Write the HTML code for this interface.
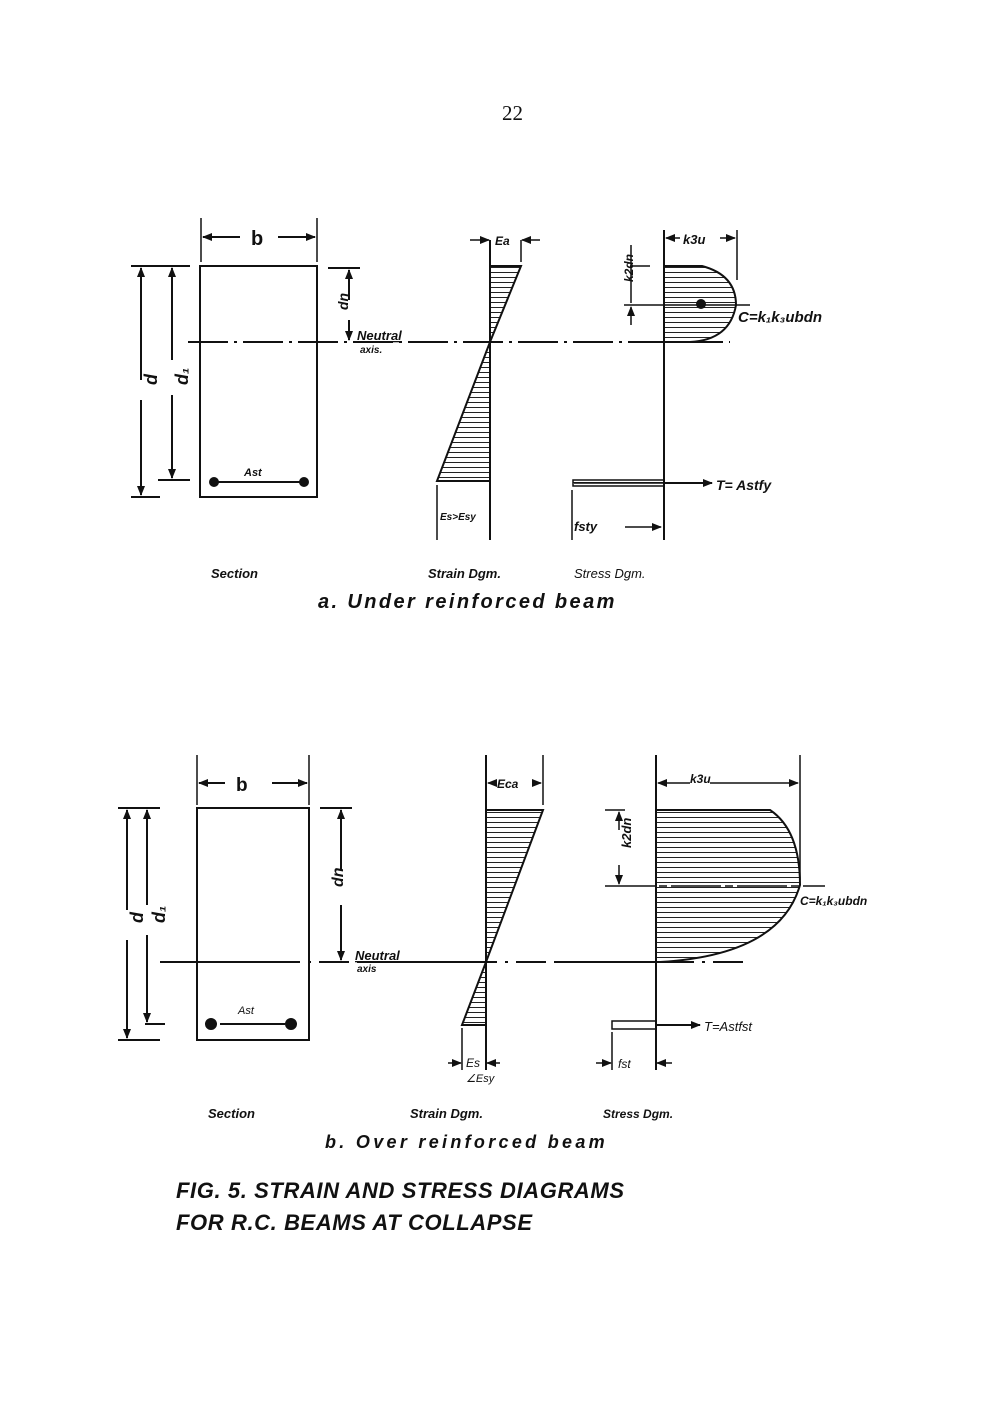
<!DOCTYPE html>
<html><head><meta charset="utf-8"><style>
html,body{margin:0;padding:0;background:#fff;}
svg{display:block}
text{font-family:"Liberation Sans",sans-serif;font-style:italic;font-weight:bold;fill:#111}
</style></head><body>
<svg width="1000" height="1420" viewBox="0 0 1000 1420" xmlns="http://www.w3.org/2000/svg">
<defs>
<pattern id="h" width="10" height="5" patternUnits="userSpaceOnUse"><line x1="0" y1="2.5" x2="10" y2="2.5" stroke="#222" stroke-width="1"/></pattern>
<marker id="a" markerWidth="10" markerHeight="8" refX="9" refY="4" orient="auto" markerUnits="userSpaceOnUse"><path d="M0,0 L10,4 L0,8 z" fill="#111"/></marker>
</defs>
<g stroke="#111" stroke-width="2" fill="none">
<text x="502" y="120" style="font-family:'Liberation Serif',serif;font-style:normal;font-weight:normal;font-size:21px" stroke="none">22</text>

<!-- ===== a ===== -->
<rect x="200" y="266" width="117" height="231"/>
<line x1="201" y1="218" x2="201" y2="262" stroke-width="1.5"/><line x1="317" y1="218" x2="317" y2="262" stroke-width="1.5"/>
<line x1="240" y1="237" x2="203" y2="237" marker-end="url(#a)"/><line x1="278" y1="237" x2="315" y2="237" marker-end="url(#a)"/>
<text x="251" y="245" font-size="20" stroke="none" style="font-style:normal">b</text>
<line x1="131" y1="266" x2="190" y2="266"/><line x1="131" y1="497" x2="160" y2="497"/><line x1="158" y1="480" x2="190" y2="480"/>
<line x1="141" y1="380" x2="141" y2="268" marker-end="url(#a)"/><line x1="141" y1="400" x2="141" y2="495" marker-end="url(#a)"/>
<line x1="172" y1="360" x2="172" y2="268" marker-end="url(#a)"/><line x1="172" y1="395" x2="172" y2="478" marker-end="url(#a)"/>
<text x="150" y="392" font-size="18" stroke="none" transform="rotate(-90 150 385)">d</text>
<text x="181" y="392" font-size="18" stroke="none" transform="rotate(-90 181 385)">d₁</text>
<line x1="328" y1="268" x2="360" y2="268"/>
<line x1="349" y1="300" x2="349" y2="270" marker-end="url(#a)"/><line x1="349" y1="320" x2="349" y2="340" marker-end="url(#a)"/>
<text x="340" y="318" font-size="14" stroke="none" transform="rotate(-90 340 310)">dn</text>
<line x1="188" y1="342" x2="730" y2="342" stroke-dasharray="40,6,3,6"/>
<text x="357" y="340" font-size="13" stroke="none" text-decoration="underline">Neutral</text>
<text x="360" y="353" font-size="10" stroke="none">axis.</text>
<circle cx="214" cy="482" r="4" fill="#111"/><circle cx="304" cy="482" r="4" fill="#111"/>
<line x1="218" y1="482" x2="300" y2="482"/>
<text x="244" y="476" font-size="11" stroke="none">Ast</text>
<!-- strain a -->
<polygon points="490,266 521,266 490,342" fill="url(#h)"/>
<polygon points="490,342 490,481 437,481" fill="url(#h)"/>
<line x1="490" y1="240" x2="490" y2="540"/>
<line x1="521" y1="240" x2="521" y2="262" stroke-width="1.5"/>
<line x1="470" y1="240" x2="489" y2="240" marker-end="url(#a)" stroke-width="1.5"/><line x1="540" y1="240" x2="522" y2="240" marker-end="url(#a)" stroke-width="1.5"/>
<text x="495" y="245" font-size="12" stroke="none">Ea</text>
<line x1="437" y1="485" x2="437" y2="540" stroke-width="1.5"/>
<text x="440" y="520" font-size="10" stroke="none">Es&gt;Esy</text>
<!-- stress a -->
<path d="M664,266 L702,266 Q736,275 736,305 Q730,340 690,342 L664,342 z" fill="url(#h)"/>
<line x1="664" y1="230" x2="664" y2="540"/>
<line x1="737" y1="230" x2="737" y2="280" stroke-width="1.5"/>
<line x1="680" y1="238" x2="666" y2="238" marker-end="url(#a)" stroke-width="1.5"/><line x1="720" y1="238" x2="735" y2="238" marker-end="url(#a)" stroke-width="1.5"/>
<text x="683" y="244" font-size="13" stroke="none">k3u</text>
<line x1="630" y1="266" x2="650" y2="266" stroke-width="1.5"/><line x1="624" y1="305" x2="750" y2="305" stroke-width="1.5"/>
<line x1="631" y1="245" x2="631" y2="303" stroke-width="1.5"/>
<line x1="631" y1="325" x2="631" y2="307" marker-end="url(#a)" stroke-width="1.5"/>
<text x="625" y="290" font-size="12" stroke="none" transform="rotate(-90 625 282)">k2dn</text>
<circle cx="701" cy="304" r="4" fill="#111"/>
<text x="738" y="322" font-size="15" stroke="none">C=k₁k₃ubdn</text>
<rect x="573" y="480" width="91" height="6" stroke-width="1.5" fill="url(#h)"/>
<line x1="574" y1="483" x2="664" y2="483" stroke-width="1.5"/>
<line x1="664" y1="483" x2="712" y2="483" marker-end="url(#a)"/>
<text x="716" y="490" font-size="14" stroke="none">T= Astfy</text>
<line x1="572" y1="490" x2="572" y2="540" stroke-width="1.5"/>
<text x="574" y="531" font-size="13" stroke="none">fsty</text>
<line x1="625" y1="527" x2="661" y2="527" marker-end="url(#a)" stroke-width="1.5"/>
<text x="211" y="578" font-size="13" stroke="none">Section</text>
<text x="428" y="578" font-size="13" stroke="none">Strain Dgm.</text>
<text x="574" y="578" font-size="13" stroke="none" style="font-weight:normal">Stress Dgm.</text>
<text x="318" y="608" font-size="20" stroke="none" letter-spacing="2.4">a. Under reinforced beam</text>

<!-- ===== b ===== -->
<rect x="197" y="808" width="112" height="232"/>
<line x1="197" y1="755" x2="197" y2="805" stroke-width="1.5"/><line x1="309" y1="755" x2="309" y2="805" stroke-width="1.5"/>
<line x1="225" y1="783" x2="199" y2="783" marker-end="url(#a)"/><line x1="272" y1="783" x2="307" y2="783" marker-end="url(#a)"/>
<text x="236" y="791" font-size="19" stroke="none" style="font-style:normal">b</text>
<line x1="118" y1="808" x2="160" y2="808"/><line x1="118" y1="1040" x2="160" y2="1040"/><line x1="145" y1="1024" x2="165" y2="1024"/>
<line x1="127" y1="910" x2="127" y2="810" marker-end="url(#a)"/><line x1="127" y1="940" x2="127" y2="1038" marker-end="url(#a)"/>
<line x1="147" y1="905" x2="147" y2="810" marker-end="url(#a)"/><line x1="147" y1="935" x2="147" y2="1022" marker-end="url(#a)"/>
<text x="136" y="930" font-size="18" stroke="none" transform="rotate(-90 136 923)">d</text>
<text x="158" y="930" font-size="18" stroke="none" transform="rotate(-90 158 923)">d₁</text>
<line x1="320" y1="808" x2="352" y2="808"/>
<line x1="341" y1="870" x2="341" y2="810" marker-end="url(#a)"/><line x1="341" y1="905" x2="341" y2="960" marker-end="url(#a)"/>
<text x="335" y="895" font-size="16" stroke="none" transform="rotate(-90 335 887)">dn</text>
<line x1="160" y1="962" x2="750" y2="962" stroke-dasharray="140,8,3,8,30,8"/>
<text x="355" y="960" font-size="13" stroke="none" text-decoration="underline">Neutral</text>
<text x="357" y="972" font-size="10" stroke="none">axis</text>
<circle cx="211" cy="1024" r="5" fill="#111"/><circle cx="291" cy="1024" r="5" fill="#111"/>
<line x1="220" y1="1024" x2="285" y2="1024"/>
<text x="238" y="1014" font-size="11" stroke="none" style="font-weight:normal">Ast</text>
<!-- strain b -->
<polygon points="486,810 543,810 486,962" fill="url(#h)"/>
<polygon points="486,962 486,1025 462,1025" fill="url(#h)"/>
<line x1="486" y1="755" x2="486" y2="1070"/>
<line x1="543" y1="755" x2="543" y2="805" stroke-width="1.5"/>
<line x1="495" y1="783" x2="488" y2="783" marker-end="url(#a)" stroke-width="1.5"/><line x1="535" y1="783" x2="541" y2="783" marker-end="url(#a)" stroke-width="1.5"/>
<text x="497" y="788" font-size="12" stroke="none">Eca</text>
<line x1="462" y1="1028" x2="462" y2="1070" stroke-width="1.5"/>
<line x1="448" y1="1063" x2="461" y2="1063" marker-end="url(#a)" stroke-width="1.5"/><line x1="500" y1="1063" x2="487" y2="1063" marker-end="url(#a)" stroke-width="1.5"/>
<text x="466" y="1067" font-size="12" stroke="none" style="font-weight:normal">Es</text>
<text x="466" y="1082" font-size="11" stroke="none" style="font-weight:normal">∠Esy</text>
<!-- stress b -->
<path d="M656,810 L770,810 Q800,830 800,885 Q780,955 660,962 L656,962 z" fill="url(#h)"/>
<line x1="656" y1="755" x2="656" y2="1070"/>
<line x1="800" y1="755" x2="800" y2="880" stroke-width="1.5"/>
<line x1="690" y1="783" x2="658" y2="783" marker-end="url(#a)" stroke-width="1.5"/><line x1="710" y1="783" x2="798" y2="783" marker-end="url(#a)" stroke-width="1.5"/>
<text x="690" y="783" font-size="12" stroke="none">k3u</text>
<line x1="605" y1="810" x2="625" y2="810" stroke-width="1.5"/><line x1="605" y1="886" x2="825" y2="886" stroke-width="1.5" stroke-dasharray="50,4,8,4"/>
<line x1="619" y1="830" x2="619" y2="812" marker-end="url(#a)" stroke-width="1.5"/><line x1="619" y1="865" x2="619" y2="884" marker-end="url(#a)" stroke-width="1.5"/>
<text x="624" y="855" font-size="13" stroke="none" transform="rotate(-90 624 848)">k2dn</text>
<text x="800" y="905" font-size="12" stroke="none">C=k₁k₃ubdn</text>
<rect x="612" y="1021" width="44" height="8" stroke-width="1.5"/>
<line x1="656" y1="1025" x2="700" y2="1025" marker-end="url(#a)"/>
<text x="704" y="1031" font-size="13" stroke="none" style="font-weight:normal">T=Astfst</text>
<line x1="612" y1="1032" x2="612" y2="1070" stroke-width="1.5"/>
<line x1="596" y1="1063" x2="611" y2="1063" marker-end="url(#a)" stroke-width="1.5"/><line x1="672" y1="1063" x2="657" y2="1063" marker-end="url(#a)" stroke-width="1.5"/>
<text x="618" y="1068" font-size="12" stroke="none" style="font-weight:normal">fst</text>
<text x="208" y="1118" font-size="13" stroke="none">Section</text>
<text x="410" y="1118" font-size="13" stroke="none">Strain Dgm.</text>
<text x="603" y="1118" font-size="12" stroke="none">Stress Dgm.</text>
<text x="325" y="1148" font-size="18" stroke="none" letter-spacing="3.3">b. Over reinforced beam</text>

<text x="176" y="1198" font-size="22" stroke="none" letter-spacing="0.6">FIG. 5. STRAIN AND STRESS DIAGRAMS</text>
<text x="176" y="1230" font-size="22" stroke="none" letter-spacing="0.6">FOR R.C. BEAMS AT COLLAPSE</text>
</g>
</svg>
</body></html>
